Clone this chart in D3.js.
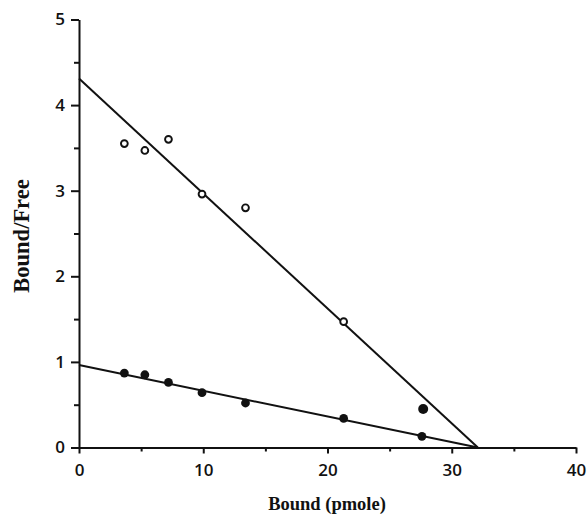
<!DOCTYPE html>
<html>
<head>
<meta charset="utf-8">
<script src="https://cdn.jsdelivr.net/npm/d3@7"></script>
<style>
  body { margin: 0; background: #fff; }
  .tick text { font-family: "Open Sans", sans-serif; font-weight: 600; font-size: 17px; fill: #111; }
  .title { font-family: "Liberation Serif", "Times New Roman", serif; font-weight: bold; fill: #111; }
</style>
</head>
<body>
<svg id="chart" width="587" height="516"></svg>
<script>
// bound (pmole) and bound/free
var openBound = [3.65, 5.3, 7.2, 9.9, 13.4, 21.3]
var openRatio = [3.55, 3.47, 3.6, 2.96, 2.8, 1.47]
var filledBound = [3.65, 5.3, 7.2, 9.9, 13.4, 21.3, 27.6]
var filledRatio = [0.87, 0.85, 0.76, 0.64, 0.52, 0.34, 0.13]
var extraBound = [27.7]
var extraRatio = [0.45]

// fitted lines: [x, y] end points
var upperLine = [[0, 4.31], [32.1, 0]]
var lowerLine = [[0, 0.963], [32.1, 0]]

var xTicks = [0, 10, 20, 30, 40]
var xMinor = [5, 15, 25, 35]
var yTicks = [0, 1, 2, 3, 4, 5]
var yMinor = [0.5, 1.5, 2.5, 3.5, 4.5]

var svg = d3.select('#chart')

var x = d3.scaleLinear().domain([0, 40]).range([79, 576])
var y = d3.scaleLinear().domain([0, 5]).range([447.5, 19.5])

function styleAxis (g) {
  g.select('.domain').attr('stroke', '#111').attr('stroke-width', 2)
  g.selectAll('.tick line').attr('stroke', '#111').attr('stroke-width', 2)
}

// axes
svg.append('g')
  .attr('transform', 'translate(0,' + y(0) + ')')
  .call(d3.axisBottom(x).tickValues(xTicks).tickFormat(d3.format('d'))
    .tickSize(6).tickPadding(10).tickSizeOuter(0))
  .call(styleAxis)

svg.append('g')
  .attr('transform', 'translate(0,' + y(0) + ')')
  .call(d3.axisBottom(x).tickValues(xMinor).tickSize(4).tickFormat('').tickSizeOuter(0))
  .call(styleAxis)
  .call(function (g) { g.select('.domain').remove() })

svg.append('g')
  .attr('transform', 'translate(' + x(0) + ',0)')
  .call(d3.axisLeft(y).tickValues(yTicks).tickFormat(d3.format('d'))
    .tickSize(8).tickPadding(6).tickSizeOuter(0))
  .call(styleAxis)

svg.append('g')
  .attr('transform', 'translate(' + x(0) + ',0)')
  .call(d3.axisLeft(y).tickValues(yMinor).tickSize(5).tickFormat('').tickSizeOuter(0))
  .call(styleAxis)
  .call(function (g) { g.select('.domain').remove() })

// titles
svg.append('text')
  .attr('class', 'title')
  .attr('x', 327)
  .attr('y', 510)
  .attr('text-anchor', 'middle')
  .style('font-size', '18.5px')
  .text('Bound (pmole)')

svg.append('text')
  .attr('class', 'title')
  .attr('transform', 'translate(29,236) rotate(-90)')
  .attr('text-anchor', 'middle')
  .style('font-size', '22.5px')
  .text('Bound/Free')

// lines
var line = d3.line()
  .x(function (d) { return x(d[0]) })
  .y(function (d) { return y(d[1]) })

svg.selectAll('path.fit')
  .data([upperLine, lowerLine])
  .enter().append('path')
    .attr('class', 'fit')
    .attr('d', line)
    .attr('fill', 'none')
    .attr('stroke', '#111')
    .attr('stroke-width', 2)

// points
svg.selectAll('circle.open')
  .data(d3.zip(openBound, openRatio))
  .enter().append('circle')
    .attr('class', 'open')
    .attr('cx', function (d) { return x(d[0]) })
    .attr('cy', function (d) { return y(d[1]) })
    .attr('r', 3.4)
    .attr('fill', '#fff')
    .attr('stroke', '#111')
    .attr('stroke-width', 1.9)

svg.selectAll('circle.filled')
  .data(d3.zip(filledBound, filledRatio))
  .enter().append('circle')
    .attr('class', 'filled')
    .attr('cx', function (d) { return x(d[0]) })
    .attr('cy', function (d) { return y(d[1]) })
    .attr('r', 4.4)
    .attr('fill', '#111')

svg.selectAll('circle.extra')
  .data(d3.zip(extraBound, extraRatio))
  .enter().append('circle')
    .attr('class', 'extra')
    .attr('cx', function (d) { return x(d[0]) })
    .attr('cy', function (d) { return y(d[1]) })
    .attr('r', 5)
    .attr('fill', '#111')
</script>
</body>
</html>
